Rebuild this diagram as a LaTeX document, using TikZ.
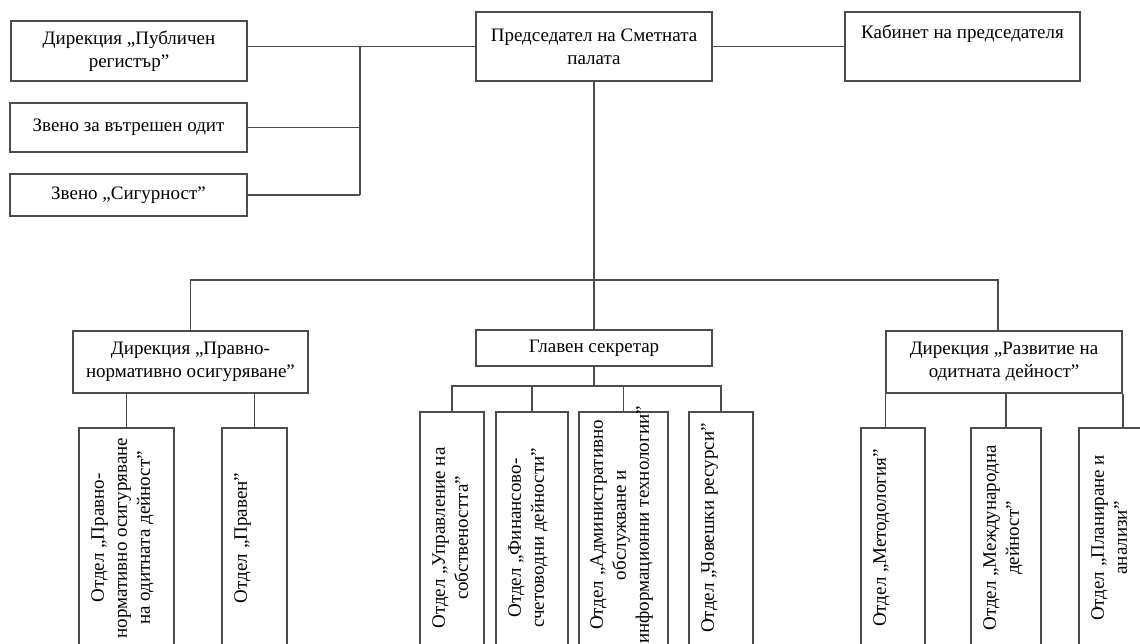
\documentclass[tikz,border=0pt]{standalone}
\usepackage{fontspec}
\setmainfont{Liberation Serif}
\begin{document}
\begin{tikzpicture}[x=1pt,y=-1pt,
  ln/.style={draw=black!70, line width=1.5pt},
  hbox/.style={ln, rectangle, inner sep=0pt, align=center, font=\fontsize{19}{23}\selectfont},
  vbox/.style={ln, rectangle, inner sep=0pt, anchor=north west, minimum height=240},
  vtext/.style={rotate=90, anchor=north, inner sep=0pt, align=center, font=\fontsize{19}{23}\selectfont}]
\useasboundingbox (0,0) rectangle (1140,644);
\clip (0,0) rectangle (1140,644);
\fill[white] (0,0) rectangle (1140,644);
% top row
\node[hbox, minimum width=236, minimum height=60] (pub) at (129,51) {Дирекция „Публичен\\регистър”};
\node[hbox, minimum width=237, minimum height=49] (vsp) at (128.5,127.5) {Звено за вътрешен одит};
\node[hbox, minimum width=237, minimum height=42] (sig) at (128.5,195) {Звено „Сигурност”};
\node[hbox, minimum width=236, minimum height=69] (pres) at (594,46.5) {Председател на Сметната\\палата};
\node[hbox, minimum width=235, minimum height=69] (kab) at (962.5,46.5) {Кабинет на председателя\\\strut};
% second level
\node[hbox, minimum width=235, minimum height=62] (dirL) at (190.5,362) {Дирекция „Правно-\\нормативно осигуряване”};
\node[hbox, minimum width=236, minimum height=36] (sec) at (594,348) {Главен секретар};
\node[hbox, minimum width=236, minimum height=62] (dirR) at (1004,362) {Дирекция „Развитие на\\одитната дейност”};
% vertical boxes
\node[vbox, minimum width=95] (l1) at (78,427) {};
\node[vbox, minimum width=65] (l2) at (221,427) {};
\node[vbox, minimum width=64] (g1) at (419,411) {};
\node[vbox, minimum width=72] (g2) at (495,411) {};
\node[vbox, minimum width=89] (g3) at (578,411) {};
\node[vbox, minimum width=64] (g4) at (688,411) {};
\node[vbox, minimum width=64] (r1) at (860,427) {};
\node[vbox, minimum width=70] (r2) at (970,427) {};
\node[vbox, minimum width=72] (r3) at (1078,427) {};
% vertical texts
\path (l1.north west) ++(13,111) node[vtext] (l1t) {Отдел „Правно-\\нормативно осигуряване\\на одитната дейност”};
\path (l2.north west) ++(13,111) node[vtext] (l2t) {Отдел „Правен”};
\path (g1.north west) ++(13,127) node[vtext] (g1t) {Отдел „Управление на\\собствеността”};
\path (g2.north west) ++(13,127) node[vtext] (g2t) {Отдел „Финансово-\\счетоводни дейности”};
\path (g3.north west) ++(12,114) node[vtext] (g3t) {Отдел „Административно\\обслужване и\\информационни технологии”};
\path (g4.north west) ++(13,117) node[vtext] (g4t) {Отдел „Човешки ресурси”};
\path (r1.north west) ++(13,111) node[vtext] (r1t) {Отдел „Методология”};
\path (r2.north west) ++(13,111) node[vtext] (r2t) {Отдел „Международна\\дейност”};
\path (r3.north west) ++(13,111) node[vtext] (r3t) {Отдел „Планиране и\\анализи”};
% connectors
\coordinate (busX) at (360,0);
\draw[ln] (pub.east |- pres.west) -- (pres.west);
\draw[ln] (vsp.east) -- (vsp.east -| busX);
\draw[ln] (sig.east) -- (sig.east -| busX);
\draw[ln] (busX |- pres.west) -- (busX |- sig.east);
\draw[ln] (pres.east) -- (kab.west);
\draw[ln] (pres.south) -- (sec.north);
\coordinate (hb) at (596,280);
\draw[ln] (dirL.north) |- (hb) -| ([xshift=-6pt]dirR.north);
\coordinate (sb) at (594,386);
\draw[ln] (sec.south) -- (sb);
\draw[ln] (g1.north) |- (sb) -| (g4.north);
\draw[ln] (g2.north) -- (g2.north |- sb);
\draw[ln] (g3.north) -- (g3.north |- sb);
\draw[ln] (l1.north) -- (l1.north |- dirL.south);
\draw[ln] (l2.north) -- (l2.north |- dirL.south);
\draw[ln] (dirR.south west) -- (dirR.south west |- r1.north);
\draw[ln] (r2.north) -- (r2.north |- dirR.south);
\draw[ln] (dirR.south east) -- (dirR.south east |- r3.north);
\end{tikzpicture}
\end{document}
